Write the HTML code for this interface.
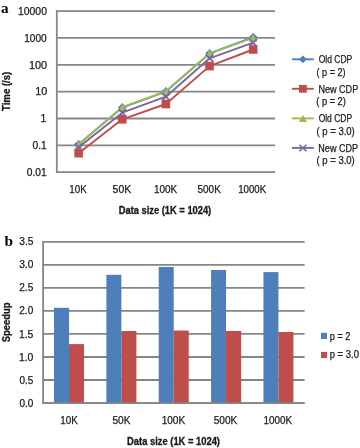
<!DOCTYPE html>
<html><head><meta charset="utf-8"><style>
html,body{margin:0;padding:0;background:#fff;width:360px;height:448px;overflow:hidden}
svg{display:block;will-change:transform;filter:blur(0.3px)}
</style></head><body>
<svg width="360" height="448" viewBox="0 0 360 448">
<rect width="360" height="448" fill="#fff"/>
<line x1="56.00" y1="172.20" x2="275.00" y2="172.20" stroke="#868686" stroke-width="1.8"/>
<line x1="56.00" y1="145.35" x2="275.00" y2="145.35" stroke="#868686" stroke-width="1.8"/>
<line x1="56.00" y1="118.50" x2="275.00" y2="118.50" stroke="#868686" stroke-width="1.8"/>
<line x1="56.00" y1="91.65" x2="275.00" y2="91.65" stroke="#868686" stroke-width="1.8"/>
<line x1="56.00" y1="64.80" x2="275.00" y2="64.80" stroke="#868686" stroke-width="1.8"/>
<line x1="56.00" y1="37.95" x2="275.00" y2="37.95" stroke="#868686" stroke-width="1.8"/>
<line x1="56.00" y1="11.10" x2="275.00" y2="11.10" stroke="#868686" stroke-width="1.8"/>
<line x1="56.80" y1="10.30" x2="56.80" y2="173.00" stroke="#868686" stroke-width="1.8"/>
<polyline points="78.62,144.30 122.26,107.50 165.90,91.50 209.54,53.50 253.18,37.20" fill="none" stroke="#4E7FBB" stroke-width="1.9" stroke-linejoin="round"/>
<path d="M78.62 139.90L83.02 144.30L78.62 148.70L74.22 144.30Z" fill="#4E7FBB"/>
<path d="M122.26 103.10L126.66 107.50L122.26 111.90L117.86 107.50Z" fill="#4E7FBB"/>
<path d="M165.90 87.10L170.30 91.50L165.90 95.90L161.50 91.50Z" fill="#4E7FBB"/>
<path d="M209.54 49.10L213.94 53.50L209.54 57.90L205.14 53.50Z" fill="#4E7FBB"/>
<path d="M253.18 32.80L257.58 37.20L253.18 41.60L248.78 37.20Z" fill="#4E7FBB"/>
<polyline points="78.62,153.20 122.26,119.30 165.90,104.00 209.54,66.10 253.18,49.50" fill="none" stroke="#BF4E4B" stroke-width="1.9" stroke-linejoin="round"/>
<rect x="74.32" y="148.90" width="8.60" height="8.60" fill="#BF4E4B"/>
<rect x="117.96" y="115.00" width="8.60" height="8.60" fill="#BF4E4B"/>
<rect x="161.60" y="99.70" width="8.60" height="8.60" fill="#BF4E4B"/>
<rect x="205.24" y="61.80" width="8.60" height="8.60" fill="#BF4E4B"/>
<rect x="248.88" y="45.20" width="8.60" height="8.60" fill="#BF4E4B"/>
<polyline points="78.62,144.50 122.26,107.30 165.90,91.30 209.54,53.40 253.18,37.80" fill="none" stroke="#9BBB59" stroke-width="1.9" stroke-linejoin="round"/>
<path d="M78.62 140.50L82.72 148.50L74.52 148.50Z" fill="#9BBB59"/>
<path d="M122.26 103.30L126.36 111.30L118.16 111.30Z" fill="#9BBB59"/>
<path d="M165.90 87.30L170.00 95.30L161.80 95.30Z" fill="#9BBB59"/>
<path d="M209.54 49.40L213.64 57.40L205.44 57.40Z" fill="#9BBB59"/>
<path d="M253.18 33.80L257.28 41.80L249.08 41.80Z" fill="#9BBB59"/>
<polyline points="78.62,147.30 122.26,112.70 165.90,96.70 209.54,58.30 253.18,42.70" fill="none" stroke="#8064A2" stroke-width="1.9" stroke-linejoin="round"/>
<path d="M74.82 143.70L82.42 150.90M82.42 143.70L74.82 150.90" stroke="#8064A2" stroke-width="1.7" fill="none"/>
<path d="M118.46 109.10L126.06 116.30M126.06 109.10L118.46 116.30" stroke="#8064A2" stroke-width="1.7" fill="none"/>
<path d="M162.10 93.10L169.70 100.30M169.70 93.10L162.10 100.30" stroke="#8064A2" stroke-width="1.7" fill="none"/>
<path d="M205.74 54.70L213.34 61.90M213.34 54.70L205.74 61.90" stroke="#8064A2" stroke-width="1.7" fill="none"/>
<path d="M249.38 39.10L256.98 46.30M256.98 39.10L249.38 46.30" stroke="#8064A2" stroke-width="1.7" fill="none"/>
<line x1="292.0" y1="59.3" x2="313.8" y2="59.3" stroke="#4E7FBB" stroke-width="1.9"/>
<path d="M302.90 55.40L306.80 59.30L302.90 63.20L299.00 59.30Z" fill="#4E7FBB"/>
<line x1="292.0" y1="88.8" x2="313.8" y2="88.8" stroke="#BF4E4B" stroke-width="1.9"/>
<rect x="299.00" y="84.90" width="7.80" height="7.80" fill="#BF4E4B"/>
<line x1="292.0" y1="118.4" x2="313.8" y2="118.4" stroke="#9BBB59" stroke-width="1.9"/>
<path d="M302.90 114.70L306.90 122.10L298.90 122.10Z" fill="#9BBB59"/>
<line x1="292.0" y1="147.9" x2="313.8" y2="147.9" stroke="#8064A2" stroke-width="1.9"/>
<path d="M299.40 144.70L306.40 151.10M306.40 144.70L299.40 151.10" stroke="#8064A2" stroke-width="1.5" fill="none"/>
<line x1="42.35" y1="403.05" x2="304.60" y2="403.05" stroke="#868686" stroke-width="1.8"/>
<line x1="42.35" y1="380.01" x2="304.60" y2="380.01" stroke="#868686" stroke-width="1.8"/>
<line x1="42.35" y1="356.98" x2="304.60" y2="356.98" stroke="#868686" stroke-width="1.8"/>
<line x1="42.35" y1="333.94" x2="304.60" y2="333.94" stroke="#868686" stroke-width="1.8"/>
<line x1="42.35" y1="310.91" x2="304.60" y2="310.91" stroke="#868686" stroke-width="1.8"/>
<line x1="42.35" y1="287.87" x2="304.60" y2="287.87" stroke="#868686" stroke-width="1.8"/>
<line x1="42.35" y1="264.84" x2="304.60" y2="264.84" stroke="#868686" stroke-width="1.8"/>
<line x1="42.35" y1="241.80" x2="304.60" y2="241.80" stroke="#868686" stroke-width="1.8"/>
<rect x="54.03" y="307.80" width="15.00" height="95.25" fill="#4E7FBB"/>
<rect x="69.03" y="344.10" width="15.00" height="58.95" fill="#BF4E4B"/>
<rect x="106.38" y="274.80" width="15.00" height="128.25" fill="#4E7FBB"/>
<rect x="121.38" y="331.00" width="15.00" height="72.05" fill="#BF4E4B"/>
<rect x="158.72" y="267.00" width="15.00" height="136.05" fill="#4E7FBB"/>
<rect x="173.72" y="330.50" width="15.00" height="72.55" fill="#BF4E4B"/>
<rect x="211.07" y="270.00" width="15.00" height="133.05" fill="#4E7FBB"/>
<rect x="226.07" y="331.00" width="15.00" height="72.05" fill="#BF4E4B"/>
<rect x="263.43" y="272.10" width="15.00" height="130.95" fill="#4E7FBB"/>
<rect x="278.43" y="332.00" width="15.00" height="71.05" fill="#BF4E4B"/>
<line x1="42.35" y1="403.05" x2="304.60" y2="403.05" stroke="#868686" stroke-width="1.8"/>
<line x1="43.1" y1="241.00" x2="43.1" y2="403.85" stroke="#868686" stroke-width="1.8"/>
<rect x="321.0" y="332.8" width="6.0" height="6.2" fill="#4E7FBB"/>
<rect x="321.0" y="351.9" width="6.0" height="6.2" fill="#BF4E4B"/>
<text x="26.717" y="175.909" font-family="Liberation Sans, sans-serif" font-size="10.4" font-weight="normal" fill="#202020" stroke="#202020" stroke-width="0.25" textLength="19.923" lengthAdjust="spacingAndGlyphs">0.01</text>
<text x="32.580" y="149.059" font-family="Liberation Sans, sans-serif" font-size="10.4" font-weight="normal" fill="#202020" stroke="#202020" stroke-width="0.25" textLength="14.211" lengthAdjust="spacingAndGlyphs">0.1</text>
<text x="40.568" y="122.209" font-family="Liberation Sans, sans-serif" font-size="10.4" font-weight="normal" fill="#202020" stroke="#202020" stroke-width="0.25" textLength="5.796" lengthAdjust="spacingAndGlyphs">1</text>
<text x="35.184" y="95.359" font-family="Liberation Sans, sans-serif" font-size="10.4" font-weight="normal" fill="#202020" stroke="#202020" stroke-width="0.25" textLength="12.059" lengthAdjust="spacingAndGlyphs">10</text>
<text x="28.947" y="68.509" font-family="Liberation Sans, sans-serif" font-size="10.4" font-weight="normal" fill="#202020" stroke="#202020" stroke-width="0.25" textLength="18.180" lengthAdjust="spacingAndGlyphs">100</text>
<text x="24.220" y="41.659" font-family="Liberation Sans, sans-serif" font-size="10.4" font-weight="normal" fill="#202020" stroke="#202020" stroke-width="0.25" textLength="22.499" lengthAdjust="spacingAndGlyphs">1000</text>
<text x="17.984" y="14.809" font-family="Liberation Sans, sans-serif" font-size="10.4" font-weight="normal" fill="#202020" stroke="#202020" stroke-width="0.25" textLength="29.000" lengthAdjust="spacingAndGlyphs">10000</text>
<text x="69.238" y="193.362" font-family="Liberation Sans, sans-serif" font-size="10.4" font-weight="normal" fill="#202020" stroke="#202020" stroke-width="0.25" textLength="17.464" lengthAdjust="spacingAndGlyphs">10K</text>
<text x="112.605" y="193.362" font-family="Liberation Sans, sans-serif" font-size="10.4" font-weight="normal" fill="#202020" stroke="#202020" stroke-width="0.25" textLength="18.604" lengthAdjust="spacingAndGlyphs">50K</text>
<text x="154.038" y="193.362" font-family="Liberation Sans, sans-serif" font-size="10.4" font-weight="normal" fill="#202020" stroke="#202020" stroke-width="0.25" textLength="23.223" lengthAdjust="spacingAndGlyphs">100K</text>
<text x="197.495" y="193.362" font-family="Liberation Sans, sans-serif" font-size="10.4" font-weight="normal" fill="#202020" stroke="#202020" stroke-width="0.25" textLength="23.349" lengthAdjust="spacingAndGlyphs">500K</text>
<text x="238.132" y="193.362" font-family="Liberation Sans, sans-serif" font-size="10.4" font-weight="normal" fill="#202020" stroke="#202020" stroke-width="0.25" textLength="28.035" lengthAdjust="spacingAndGlyphs">1000K</text>
<text x="19.393" y="406.638" font-family="Liberation Sans, sans-serif" font-size="10.4" font-weight="normal" fill="#202020" stroke="#202020" stroke-width="0.25" textLength="13.900" lengthAdjust="spacingAndGlyphs">0.0</text>
<text x="19.387" y="383.602" font-family="Liberation Sans, sans-serif" font-size="10.4" font-weight="normal" fill="#202020" stroke="#202020" stroke-width="0.25" textLength="13.867" lengthAdjust="spacingAndGlyphs">0.5</text>
<text x="18.945" y="360.566" font-family="Liberation Sans, sans-serif" font-size="10.4" font-weight="normal" fill="#202020" stroke="#202020" stroke-width="0.25" textLength="14.464" lengthAdjust="spacingAndGlyphs">1.0</text>
<text x="18.903" y="337.530" font-family="Liberation Sans, sans-serif" font-size="10.4" font-weight="normal" fill="#202020" stroke="#202020" stroke-width="0.25" textLength="14.505" lengthAdjust="spacingAndGlyphs">1.5</text>
<text x="19.307" y="314.495" font-family="Liberation Sans, sans-serif" font-size="10.4" font-weight="normal" fill="#202020" stroke="#202020" stroke-width="0.25" textLength="13.925" lengthAdjust="spacingAndGlyphs">2.0</text>
<text x="19.285" y="291.459" font-family="Liberation Sans, sans-serif" font-size="10.4" font-weight="normal" fill="#202020" stroke="#202020" stroke-width="0.25" textLength="13.947" lengthAdjust="spacingAndGlyphs">2.5</text>
<text x="19.215" y="268.423" font-family="Liberation Sans, sans-serif" font-size="10.4" font-weight="normal" fill="#202020" stroke="#202020" stroke-width="0.25" textLength="14.158" lengthAdjust="spacingAndGlyphs">3.0</text>
<text x="19.231" y="245.388" font-family="Liberation Sans, sans-serif" font-size="10.4" font-weight="normal" fill="#202020" stroke="#202020" stroke-width="0.25" textLength="14.174" lengthAdjust="spacingAndGlyphs">3.5</text>
<text x="60.215" y="423.577" font-family="Liberation Sans, sans-serif" font-size="10.4" font-weight="normal" fill="#202020" stroke="#202020" stroke-width="0.25" textLength="17.620" lengthAdjust="spacingAndGlyphs">10K</text>
<text x="112.437" y="423.577" font-family="Liberation Sans, sans-serif" font-size="10.4" font-weight="normal" fill="#202020" stroke="#202020" stroke-width="0.25" textLength="17.969" lengthAdjust="spacingAndGlyphs">50K</text>
<text x="161.638" y="423.577" font-family="Liberation Sans, sans-serif" font-size="10.4" font-weight="normal" fill="#202020" stroke="#202020" stroke-width="0.25" textLength="23.562" lengthAdjust="spacingAndGlyphs">100K</text>
<text x="213.650" y="423.577" font-family="Liberation Sans, sans-serif" font-size="10.4" font-weight="normal" fill="#202020" stroke="#202020" stroke-width="0.25" textLength="23.724" lengthAdjust="spacingAndGlyphs">500K</text>
<text x="263.395" y="423.577" font-family="Liberation Sans, sans-serif" font-size="10.4" font-weight="normal" fill="#202020" stroke="#202020" stroke-width="0.25" textLength="28.658" lengthAdjust="spacingAndGlyphs">1000K</text>
<text x="118.723" y="214.040" font-family="Liberation Sans, sans-serif" font-size="10.0" font-weight="bold" fill="#1a1a1a" stroke="#1a1a1a" stroke-width="0.3" textLength="92.508" lengthAdjust="spacingAndGlyphs">Data size (1K = 1024)</text>
<text x="127.061" y="444.675" font-family="Liberation Sans, sans-serif" font-size="10.0" font-weight="bold" fill="#1a1a1a" stroke="#1a1a1a" stroke-width="0.3" textLength="92.945" lengthAdjust="spacingAndGlyphs">Data size (1K = 1024)</text>
<text transform="translate(9.622,111.015) rotate(-90)" x="0" y="0" font-family="Liberation Sans, sans-serif" font-size="10.2" font-weight="bold" fill="#1a1a1a" stroke="#1a1a1a" stroke-width="0.3" textLength="39.310" lengthAdjust="spacingAndGlyphs">Time (/s)</text>
<text transform="translate(9.680,342.312) rotate(-90)" x="0" y="0" font-family="Liberation Sans, sans-serif" font-size="10.2" font-weight="bold" fill="#1a1a1a" stroke="#1a1a1a" stroke-width="0.3" textLength="39.894" lengthAdjust="spacingAndGlyphs">Speedup</text>
<text x="318.717" y="63.133" font-family="Liberation Sans, sans-serif" font-size="10.0" font-weight="normal" fill="#202020" stroke="#202020" stroke-width="0.25" textLength="33.591" lengthAdjust="spacingAndGlyphs">Old CDP</text>
<text x="316.496" y="75.898" font-family="Liberation Sans, sans-serif" font-size="10.0" font-weight="normal" fill="#202020" stroke="#202020" stroke-width="0.25" textLength="29.111" lengthAdjust="spacingAndGlyphs">( p = 2)</text>
<text x="318.434" y="92.633" font-family="Liberation Sans, sans-serif" font-size="10.0" font-weight="normal" fill="#202020" stroke="#202020" stroke-width="0.25" textLength="39.771" lengthAdjust="spacingAndGlyphs">New CDP</text>
<text x="316.318" y="105.398" font-family="Liberation Sans, sans-serif" font-size="10.0" font-weight="normal" fill="#202020" stroke="#202020" stroke-width="0.25" textLength="29.502" lengthAdjust="spacingAndGlyphs">( p = 2)</text>
<text x="318.640" y="122.233" font-family="Liberation Sans, sans-serif" font-size="10.0" font-weight="normal" fill="#202020" stroke="#202020" stroke-width="0.25" textLength="33.415" lengthAdjust="spacingAndGlyphs">Old CDP</text>
<text x="316.458" y="134.998" font-family="Liberation Sans, sans-serif" font-size="10.0" font-weight="normal" fill="#202020" stroke="#202020" stroke-width="0.25" textLength="38.341" lengthAdjust="spacingAndGlyphs">( p = 3.0)</text>
<text x="318.370" y="151.733" font-family="Liberation Sans, sans-serif" font-size="10.0" font-weight="normal" fill="#202020" stroke="#202020" stroke-width="0.25" textLength="39.560" lengthAdjust="spacingAndGlyphs">New CDP</text>
<text x="316.458" y="164.498" font-family="Liberation Sans, sans-serif" font-size="10.0" font-weight="normal" fill="#202020" stroke="#202020" stroke-width="0.25" textLength="38.341" lengthAdjust="spacingAndGlyphs">( p = 3.0)</text>
<text x="329.837" y="339.561" font-family="Liberation Sans, sans-serif" font-size="10.0" font-weight="normal" fill="#202020" stroke="#202020" stroke-width="0.25" textLength="20.618" lengthAdjust="spacingAndGlyphs">p = 2</text>
<text x="329.662" y="358.077" font-family="Liberation Sans, sans-serif" font-size="10.0" font-weight="normal" fill="#202020" stroke="#202020" stroke-width="0.25" textLength="29.275" lengthAdjust="spacingAndGlyphs">p = 3.0</text>
<text x="0.942" y="12.755" font-family="Liberation Serif, sans-serif" font-size="15" font-weight="bold" fill="#000" textLength="7.599" lengthAdjust="spacingAndGlyphs">a</text>
<text x="4.545" y="245.755" font-family="Liberation Serif, sans-serif" font-size="15" font-weight="bold" fill="#000" textLength="8.557" lengthAdjust="spacingAndGlyphs">b</text>
</svg>
</body></html>
